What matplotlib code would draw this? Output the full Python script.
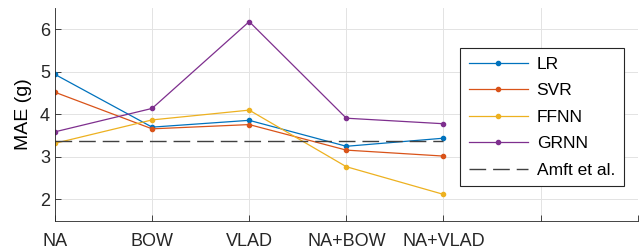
import matplotlib
matplotlib.use("Agg")
import matplotlib.pyplot as plt

# === Data ===
features = ["NA", "BOW", "VLAD", "NA+BOW", "NA+VLAD", "", ""]
lr = [4.94, 3.70, 3.86, 3.25, 3.44]
svr = [4.52, 3.66, 3.76, 3.16, 3.02]
ffnn = [3.32, 3.87, 4.10, 2.77, 2.12]
grnn = [3.59, 4.14, 6.18, 3.91, 3.78]
amft = 3.37

series = [("LR", lr, "#0072BD"), ("SVR", svr, "#D95319"),
          ("FFNN", ffnn, "#EDB120"), ("GRNN", grnn, "#7E2F8E")]

plt.rcParams["font.family"] = ["Liberation Sans", "DejaVu Sans"]

# === Figure ===
fig = plt.figure(figsize=(6.39, 2.5), dpi=100)
ax = fig.add_axes([0.086, 0.117, 0.912, 0.851])

xs = list(range(1, len(lr) + 1))
for name, vals, col in series:
    ax.plot(xs, vals, color=col, lw=0.9, marker=".", ms=6, label=name)
ax.plot([1, len(lr)], [amft, amft], color="#404040", lw=1.0,
        dashes=(12, 5), label="Amft et al.")

ax.set_xlim(1, len(features))
ax.set_ylim(1.5, 6.5)
ax.set_xticks(range(1, len(features) + 1))
ax.set_xticklabels(features)
ax.set_yticks([2, 3, 4, 5, 6])
ax.set_ylabel("MAE (g)", fontsize=14, labelpad=6)
ax.tick_params(direction="in", labelsize=13, colors="#262626", length=4, width=0.6)
ax.tick_params(axis="x", pad=8.5)
ax.grid(True, color="#e3e3e3", lw=0.7)
ax.set_axisbelow(True)
for s in ["top", "right"]:
    ax.spines[s].set_visible(False)
for s in ["left", "bottom"]:
    ax.spines[s].set_color("#262626")
    ax.spines[s].set_linewidth(0.6)

leg = ax.legend(loc="upper right", bbox_to_anchor=(0.976, 0.812), borderaxespad=0,
                fontsize=12.5, handlelength=3.4, fancybox=False, framealpha=1,
                edgecolor="#262626", labelspacing=0.65, borderpad=0.5, handletextpad=0.5)
leg.get_frame().set_linewidth(0.8)

fig.savefig("out.png", dpi=100)
